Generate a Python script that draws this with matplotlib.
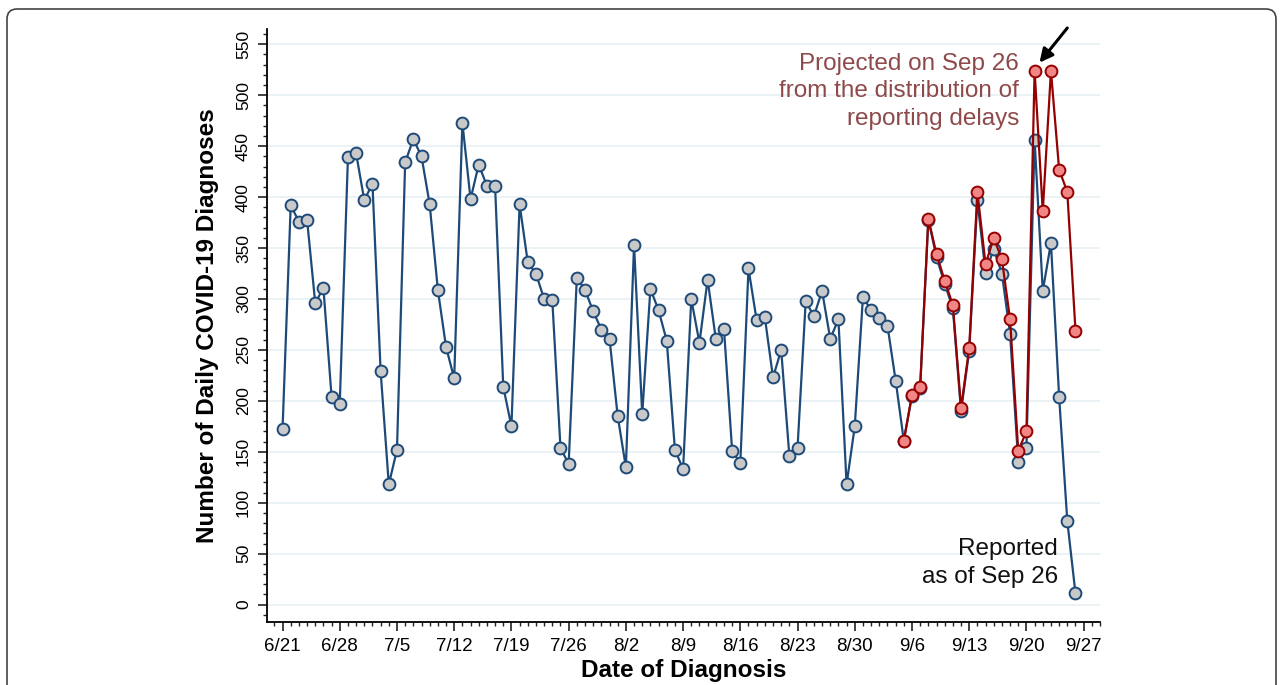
import numpy as np
import pandas as pd
import matplotlib
matplotlib.use("Agg")
import matplotlib.pyplot as plt
import matplotlib.dates as mdates
from matplotlib.patches import FancyBboxPatch
from matplotlib.transforms import IdentityTransform
from matplotlib.ticker import MultipleLocator

plt.rcParams['font.family'] = ['Liberation Sans', 'DejaVu Sans']

# Daily diagnoses as reported on Sep 26 (6/21 .. 9/26)
reported_start = "2020-06-21"
reported = [
    172, 392, 376, 378, 296, 311, 204, 197, 439, 443,            # 6/21-6/30
    397, 413, 229, 118, 152, 434, 457, 440, 393, 309,            # 7/1-7/10
    253, 222, 473, 398, 432, 411, 411, 214, 175, 393,            # 7/11-7/20
    336, 325, 300, 299, 154, 138, 321, 309, 288, 270, 261,       # 7/21-7/31
    185, 135, 353, 187, 310, 289, 259, 152, 133, 300,            # 8/1-8/10
    257, 319, 261, 271, 151, 139, 330, 279, 282, 223,            # 8/11-8/20
    250, 146, 154, 298, 283, 308, 261, 280, 118, 175, 302,       # 8/21-8/31
    289, 281, 274, 220, 161, 205, 213, 378, 341, 315,            # 9/1-9/10
    291, 190, 249, 397, 326, 349, 325, 266, 140, 154,            # 9/11-9/20
    456, 308, 355, 204, 82, 11,                                  # 9/21-9/26
]

# Projected counts from the reporting-delay distribution (9/5 .. 9/26)
projected_start = "2020-09-05"
projected = [
    161, 206, 214, 379, 344, 318, 294, 193, 252, 405, 334,
    360, 339, 280, 151, 170, 524, 386, 524, 427, 405, 269,
]

tick_start = "2020-06-21"
tick_end = "2020-09-27"

reported_dates = pd.date_range(reported_start, periods=len(reported), freq="D")
projected_dates = pd.date_range(projected_start, periods=len(projected), freq="D")

blue = "#1d4a78"
red = "#950000"

fig = plt.figure(figsize=(12.84, 6.85), dpi=100)

# rounded frame round the whole figure
frame = FancyBboxPatch((7, -30), 1269, 676 + 30,
                       boxstyle="round,pad=0,rounding_size=10",
                       transform=IdentityTransform(), fill=False,
                       edgecolor="#444444", linewidth=1.2)
fig.add_artist(frame)

ax = fig.add_axes([267 / 1284, (685 - 622) / 685, (1100 - 267) / 1284, (622 - 29) / 685])

ax.plot(reported_dates, reported, color=blue, linewidth=1.6, marker="o",
        markersize=8.5, markerfacecolor="#c9c9c9", markeredgecolor=blue,
        markeredgewidth=1.4, zorder=3)
ax.plot(projected_dates, projected, color=red, linewidth=1.6, marker="o",
        markersize=8.5, markerfacecolor="#f08686", markeredgecolor=red,
        markeredgewidth=1.4, zorder=4)

# axes limits
x0 = mdates.date2num(pd.Timestamp(tick_start))
ax.set_xlim(x0 - 1.9, x0 + 100)
ax.set_ylim(-17, 565)

# x ticks: weekly labels, daily minor ticks
ax.set_xticks(pd.date_range(tick_start, tick_end, freq="7D"))
ax.xaxis.set_major_formatter(mdates.DateFormatter("%-m/%-d"))
ax.xaxis.set_minor_locator(mdates.DayLocator())

# y ticks every 50, minor every 10
ax.yaxis.set_minor_locator(MultipleLocator(10))
ax.set_yticks(np.arange(0, 551, 50))
for lab in ax.get_yticklabels():
    lab.set_rotation(90)
    lab.set_va("center")

ax.tick_params(axis="both", which="major", length=6.5, width=1.2, color="#222222")
ax.tick_params(axis="both", which="minor", length=3.2, width=1.0, color="#222222")
ax.tick_params(axis="x", which="major", labelsize=13.5, pad=5)
ax.tick_params(axis="y", which="major", labelsize=12.5, pad=5)

ax.grid(axis="y", color="#e8f1f4", linewidth=1.3)
ax.set_axisbelow(True)

ax.spines["top"].set_visible(False)
ax.spines["right"].set_visible(False)
ax.spines["left"].set_linewidth(1.3)
ax.spines["bottom"].set_linewidth(1.3)

ax.set_xlabel("Date of Diagnosis", fontsize=17.5, fontweight="bold", labelpad=3)
ax.set_ylabel("Number of Daily COVID-19 Diagnoses", fontsize=17.5, fontweight="bold", labelpad=12)

# annotations
ax.text(0.903, 0.960, "Projected on Sep 26\nfrom the distribution of\nreporting delays",
        transform=ax.transAxes, ha="right", va="top", fontsize=17.5,
        color="#8e4a4a", linespacing=1.32)
ax.text(0.9495, 0.141, "Reported\nas of Sep 26", transform=ax.transAxes,
        ha="right", va="top", fontsize=17.5, color="#111111", linespacing=1.32)

peak_date = projected_dates[projected.index(max(projected))]
ax.annotate("", xy=(mdates.date2num(peak_date) + 0.6, max(projected) + 8),
            xytext=(mdates.date2num(peak_date) + 4.0, max(projected) + 42),
            arrowprops=dict(arrowstyle="-|>", color="black", lw=2.2,
                            mutation_scale=20, shrinkA=0, shrinkB=0),
            annotation_clip=False)

fig.savefig("out.png", dpi=100)
